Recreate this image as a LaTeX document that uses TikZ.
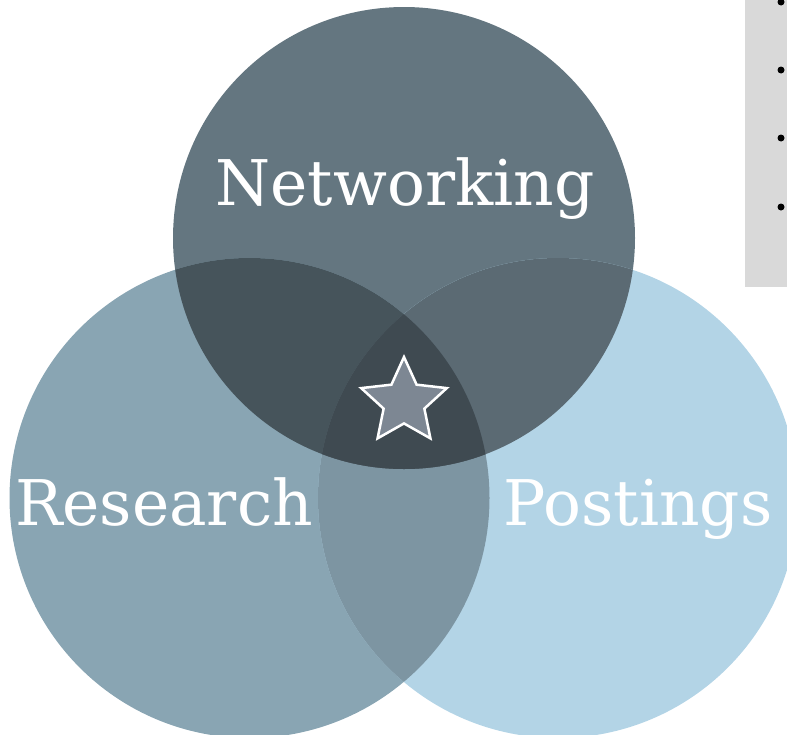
\documentclass[tikz,border=0pt]{standalone}
\usepackage{fontspec}
\setmainfont{DejaVu Serif}
\usetikzlibrary{shapes.geometric}

\definecolor{netcol}{HTML}{647680}
\definecolor{rescol}{HTML}{89A5B3}
\definecolor{poscol}{HTML}{B3D4E6}
\definecolor{nrcol}{HTML}{46545B}
\definecolor{npcol}{HTML}{5B6A73}
\definecolor{rpcol}{HTML}{7D95A2}
\definecolor{allcol}{HTML}{3F4A51}
\definecolor{starcol}{HTML}{7D8793}
\definecolor{boxgray}{HTML}{D9D9D9}

\begin{document}
\begin{tikzpicture}[x=1pt,y=-1pt,font=\fontsize{63pt}{70pt}\selectfont,
  label/.style={text=white,anchor=base},
  dot/.style={circle,fill=black,inner sep=0pt,minimum size=7pt}]

\clip (0,0) rectangle (787,734);

\coordinate (N) at (404,238);
\coordinate (R) at (249.5,498);
\coordinate (P) at (558,498);

% the three sets
\fill[netcol] (N) circle[radius=231pt];
\fill[rescol] (R) circle[radius=240pt];
\fill[poscol] (P) circle[radius=240pt];

% overlaps
\begin{scope}
  \clip (R) circle[radius=240pt];
  \fill[rpcol] (P) circle[radius=240pt];
\end{scope}
\begin{scope}
  \clip (N) circle[radius=231pt];
  \fill[nrcol] (R) circle[radius=240pt];
\end{scope}
\begin{scope}
  \clip (N) circle[radius=231pt];
  \fill[npcol] (P) circle[radius=240pt];
\end{scope}
\begin{scope}
  \clip (N) circle[radius=231pt];
  \clip (R) circle[radius=240pt];
  \fill[allcol] (P) circle[radius=240pt];
\end{scope}

\node[label] (net) at (405,205) {Networking};
\node[label] (res) at (164,525) {Research};
\node[label] (pos) at (638,525) {Postings};

\node[star,star points=5,star point ratio=2.1,minimum size=90pt,inner sep=0pt,
  fill=starcol,draw=white,line width=2.5pt] (goal) at (404,402) {};

% side panel
\fill[boxgray] (745,0) rectangle (787,287);
\foreach \y [count=\i] in {2,70,138,207}
  \node[dot] (b\i) at (781,\y) {};

\end{tikzpicture}
\end{document}
